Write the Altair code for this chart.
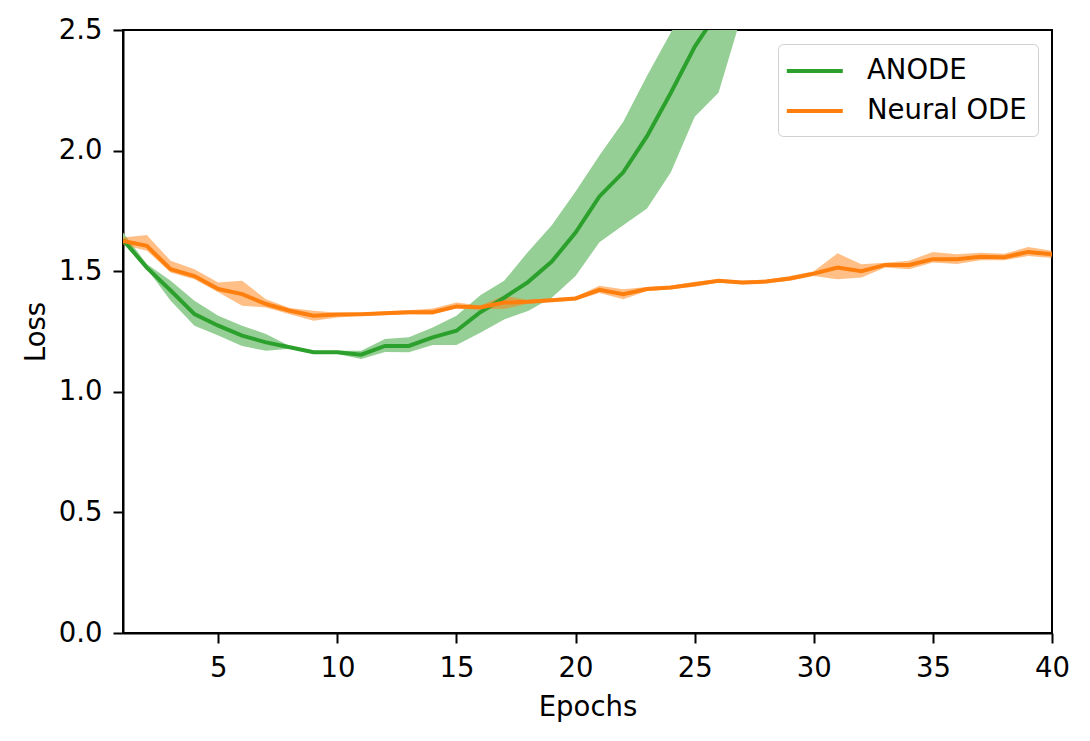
import altair as alt
import pandas as pd

epochs = list(range(1, 41))

anode_epochs = list(range(1, 28))
anode_mean = [1.63, 1.515, 1.42, 1.322, 1.274, 1.233, 1.205, 1.185, 1.164, 1.164,
              1.154, 1.19, 1.19, 1.226, 1.253, 1.33, 1.39, 1.455, 1.54, 1.66,
              1.81, 1.91, 2.06, 2.24, 2.43, 2.58, 2.78]
anode_lower = [1.62, 1.51, 1.377, 1.274, 1.233, 1.19, 1.17, 1.178, 1.157, 1.157,
               1.136, 1.165, 1.164, 1.194, 1.194, 1.245, 1.30, 1.335, 1.39, 1.48,
               1.62, 1.69, 1.76, 1.91, 2.14, 2.24, 2.57]
anode_upper = [1.66, 1.53, 1.46, 1.377, 1.315, 1.274, 1.24, 1.19, 1.17, 1.17,
               1.17, 1.219, 1.226, 1.267, 1.315, 1.40, 1.46, 1.58, 1.69, 1.83,
               1.98, 2.12, 2.31, 2.49, 2.7, 2.9, 3.1]

node_mean = [1.625, 1.605, 1.508, 1.48, 1.426, 1.405, 1.364, 1.336, 1.315, 1.32,
             1.322, 1.326, 1.33, 1.33, 1.354, 1.35, 1.37, 1.373, 1.38, 1.387,
             1.423, 1.405, 1.426, 1.432, 1.446, 1.46, 1.453, 1.457, 1.47, 1.49,
             1.515, 1.50, 1.526, 1.526, 1.55, 1.55, 1.56, 1.558, 1.58, 1.57]
node_lower = [1.61, 1.585, 1.495, 1.467, 1.413, 1.357, 1.35, 1.322, 1.295, 1.308,
              1.315, 1.318, 1.322, 1.32, 1.345, 1.343, 1.343, 1.365, 1.373, 1.38,
              1.41, 1.384, 1.418, 1.425, 1.436, 1.453, 1.445, 1.45, 1.46, 1.48,
              1.467, 1.474, 1.515, 1.508, 1.536, 1.53, 1.545, 1.545, 1.563, 1.555]
node_upper = [1.64, 1.65, 1.543, 1.508, 1.453, 1.46, 1.384, 1.347, 1.336, 1.328,
              1.328, 1.334, 1.338, 1.345, 1.37, 1.358, 1.398, 1.382, 1.388, 1.394,
              1.44, 1.425, 1.435, 1.44, 1.456, 1.467, 1.46, 1.465, 1.48, 1.5,
              1.574, 1.529, 1.535, 1.543, 1.58, 1.57, 1.577, 1.572, 1.6, 1.585]

models = ["ANODE", "Neural ODE"]
line_colors = ["#2ca02c", "#ff7f0e"]
band_colors = ["#95cf95", "#ff7f0e"]

x_ticks = [5, 10, 15, 20, 25, 30, 35, 40]
y_ticks = [0, 0.5, 1.0, 1.5, 2.0, 2.5]

df_a = pd.DataFrame({"epoch": anode_epochs, "mean": anode_mean,
                     "lower": anode_lower, "upper": anode_upper, "model": "ANODE"})
df_n = pd.DataFrame({"epoch": epochs, "mean": node_mean,
                     "lower": node_lower, "upper": node_upper, "model": "Neural ODE"})
df = pd.concat([df_a, df_n], ignore_index=True)

FONT = "DejaVu Sans"
FS = 27.5

common_axis = dict(grid=False, tickSize=10, tickWidth=2, domainWidth=2,
                   domainColor="black", tickColor="black",
                   labelFontSize=FS, titleFontSize=FS,
                   labelColor="black", titleColor="black",
                   labelFont=FONT, titleFont=FONT,
                   titleFontWeight="normal", labelFlush=False)

x = alt.X("epoch:Q", title="Epochs",
          scale=alt.Scale(domain=[1, 40], nice=False, zero=False),
          axis=alt.Axis(values=x_ticks, labelPadding=11, titlePadding=12,
                        **common_axis))
y_axis = alt.Axis(values=y_ticks, format=".1f", labelPadding=11,
                  titlePadding=8, **common_axis)
yscale = alt.Scale(domain=[0, 2.5], nice=False)

bandA = alt.Chart(df).transform_filter(alt.datum.model == "ANODE").mark_area(
    clip=True, color=band_colors[0], opacity=1).encode(
    x=x, y=alt.Y("lower:Q", title="Loss", scale=yscale, axis=y_axis), y2="upper:Q")
bandN = alt.Chart(df).transform_filter(alt.datum.model == "Neural ODE").mark_area(
    clip=True, color=band_colors[1], opacity=0.5).encode(
    x=x, y=alt.Y("lower:Q", title="Loss", scale=yscale, axis=y_axis), y2="upper:Q")

lines = alt.Chart(df).mark_line(clip=True, strokeWidth=4).encode(
    x=x,
    y=alt.Y("mean:Q", title="Loss", scale=yscale, axis=y_axis),
    color=alt.Color("model:N", scale=alt.Scale(domain=models, range=line_colors),
                    legend=alt.Legend(title=None, orient="none",
                                      legendX=655, legendY=14,
                                      symbolType="M-1.3,0L2.7,0", symbolSize=784,
                                      symbolStrokeWidth=4,
                                      labelFontSize=FS, labelFont=FONT,
                                      labelColor="black",
                                      rowPadding=10, labelOffset=46,
                                      padding=11,
                                      fillColor="white", strokeColor="#d0d0d0",
                                      cornerRadius=5)),
)

chart = alt.layer(bandA, bandN, lines).properties(
    width=929, height=603,
    autosize=alt.AutoSizeParams(type="none"),
    padding={"left": 115, "top": 22, "right": 30, "bottom": 100},
).configure(font=FONT).configure_view(stroke="black", strokeWidth=2)

chart.save("out.html", embed_options={"renderer": "svg", "actions": False})
